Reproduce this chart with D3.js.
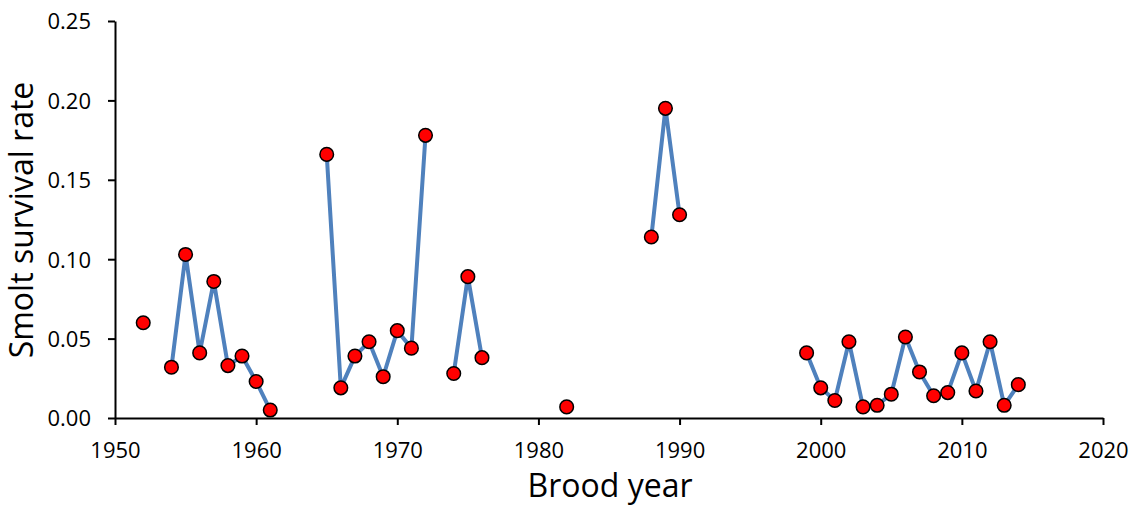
<!DOCTYPE html>
<html>
<head>
<meta charset="utf-8">
<script src="https://cdn.jsdelivr.net/npm/d3@7"></script>
<style>
  body { margin: 0; background: #fff; }
  svg text { font-family: "Open Sans", sans-serif; fill: #000; }
</style>
</head>
<body>
<div class="svg-div"></div>
<script>
// brood years and smolt survival; null = no estimate (breaks the line)
const years = [1952, 1953, 1954, 1955, 1956, 1957, 1958, 1959, 1960, 1961, 1962, 1963, 1964,
  1965, 1966, 1967, 1968, 1969, 1970, 1971, 1972, 1973, 1974, 1975, 1976, 1977,
  1981, 1982, 1983, 1987, 1988, 1989, 1990, 1991, 1998,
  1999, 2000, 2001, 2002, 2003, 2004, 2005, 2006, 2007, 2008, 2009, 2010, 2011, 2012, 2013, 2014];
const survival = [0.060, null, 0.032, 0.103, 0.041, 0.086, 0.033, 0.039, 0.023, 0.005, null, null, null,
  0.166, 0.019, 0.039, 0.048, 0.026, 0.055, 0.044, 0.178, null, 0.028, 0.089, 0.038, null,
  null, 0.007, null, null, 0.114, 0.195, 0.128, null, null,
  0.041, 0.019, 0.011, 0.048, 0.007, 0.008, 0.015, 0.051, 0.029, 0.014, 0.016, 0.041, 0.017, 0.048, 0.008, 0.021];
const xTicks = [1950, 1960, 1970, 1980, 1990, 2000, 2010, 2020];
const yTicks = [0, 0.05, 0.10, 0.15, 0.20, 0.25];

const allData = years.map((y, i) => ({ year: y, value: survival[i] }));

const svgWidth = 1134, svgHeight = 506;
const margin = { top: 21, right: 31, bottom: 88, left: 115 };
const width = svgWidth - margin.left - margin.right;
const height = svgHeight - margin.top - margin.bottom;

const svg = d3.select(".svg-div").append("svg")
  .attr("width", svgWidth)
  .attr("height", svgHeight);

const x = d3.scaleLinear().domain([1950, 2020]).range([0, width]);
const y = d3.scaleLinear().domain([0, 0.25]).range([height, 0]);

const g = svg.append("g")
  .attr("transform", "translate(" + margin.left + "," + margin.top + ")");

const xAxis = g.append("g")
  .attr("transform", "translate(0," + height + ")")
  .call(d3.axisBottom(x).tickValues(xTicks).tickFormat(d3.format("d")).tickSize(7).tickSizeOuter(0));

const yAxis = g.append("g")
  .call(d3.axisLeft(y).tickValues(yTicks).tickFormat(d3.format(".2f")).tickSize(7).tickSizeOuter(0));

[xAxis, yAxis].forEach(a => {
  a.attr("font-size", 22);
  a.select(".domain").attr("stroke", "#000").attr("stroke-width", 2);
  a.selectAll(".tick line").attr("stroke", "#000").attr("stroke-width", 2);
  a.selectAll(".tick text").style("font-size", "22px");
});
xAxis.selectAll(".tick text").attr("y", 40).attr("dy", 0);
yAxis.selectAll(".tick text").attr("x", -24).attr("dy", "0.36em");

const line = d3.line()
  .defined(d => d.value !== null)
  .x(d => x(d.year))
  .y(d => y(d.value));

g.append("path")
  .datum(allData)
  .attr("fill", "none")
  .attr("stroke", "#4f81bd")
  .attr("stroke-width", 4)
  .attr("stroke-linejoin", "round")
  .attr("d", line);

g.selectAll(".dot")
  .data(allData.filter(d => d.value !== null))
  .enter()
  .append("circle")
  .attr("class", "dot")
  .attr("cx", d => x(d.year))
  .attr("cy", d => y(d.value))
  .attr("r", 6.8)
  .attr("fill", "#ff0000")
  .attr("stroke", "#000")
  .attr("stroke-width", 1.5);

svg.append("text")
  .attr("transform", "translate(33," + (margin.top + 199) + ") rotate(-90)")
  .attr("text-anchor", "middle")
  .style("font-size", "32px")
  .text("Smolt survival rate");

svg.append("text")
  .attr("x", 610)
  .attr("y", 497)
  .attr("text-anchor", "middle")
  .style("font-size", "32px")
  .text("Brood year");
</script>
</body>
</html>
